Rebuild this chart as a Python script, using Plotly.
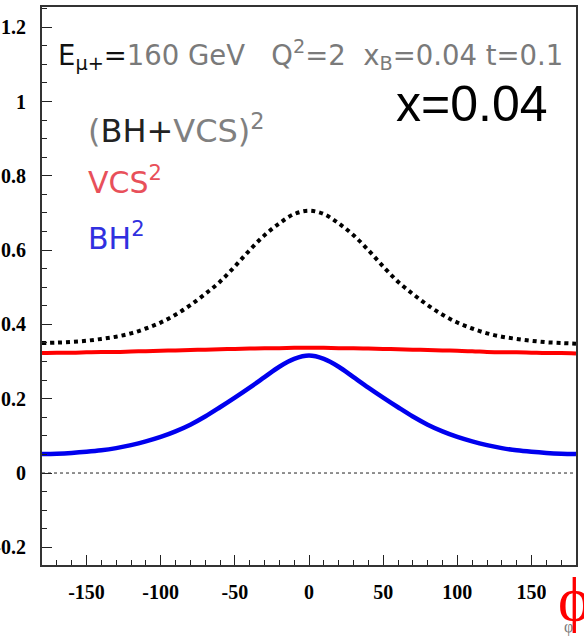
import plotly.graph_objects as go

# ---- data ----
phi = [-180, -170, -160, -150, -140, -130, -120, -110, -100, -90, -80, -70, -60, -50, -40, -30, -20, -10,
       0, 10, 20, 30, 40, 50, 60, 70, 80, 90, 100, 110, 120, 130, 140, 150, 160, 170, 180]

bh_vcs_sq = [0.350, 0.351, 0.353, 0.356, 0.361, 0.367, 0.376, 0.389, 0.405, 0.426, 0.452, 0.482, 0.515, 0.556,
             0.600, 0.640, 0.672, 0.697, 0.706, 0.697, 0.672, 0.640, 0.600, 0.556, 0.515, 0.482, 0.452, 0.426,
             0.405, 0.389, 0.376, 0.367, 0.361, 0.356, 0.352, 0.350, 0.348]

vcs_sq = [0.323, 0.324, 0.324, 0.325, 0.326, 0.326, 0.327, 0.328, 0.329, 0.330, 0.331, 0.332, 0.333, 0.334,
          0.335, 0.336, 0.336, 0.337, 0.337, 0.337, 0.336, 0.336, 0.335, 0.334, 0.333, 0.332, 0.331, 0.330,
          0.329, 0.328, 0.326, 0.325, 0.325, 0.324, 0.323, 0.323, 0.322]

bh_sq = [0.051, 0.052, 0.054, 0.057, 0.061, 0.067, 0.075, 0.085, 0.097, 0.112, 0.130, 0.152, 0.177, 0.203,
         0.230, 0.258, 0.286, 0.307, 0.316, 0.307, 0.286, 0.258, 0.230, 0.203, 0.177, 0.152, 0.130, 0.112,
         0.097, 0.085, 0.075, 0.067, 0.061, 0.057, 0.054, 0.052, 0.051]

x_ticks = [-150, -100, -50, 0, 50, 100, 150]
x_tick_labels = ["-150", "-100", "-50", "0", "50", "100", "150"]
y_ticks = [-0.2, 0, 0.2, 0.4, 0.6, 0.8, 1.0, 1.2]
y_tick_labels = ["-0.2", "0", "0.2", "0.4", "0.6", "0.8", "1", "1.2"]

# ---- figure ----
W, H = 584, 636
ML, MR, MT, MB = 42, 8, 7, 71


def px(x):
    return (x - ML) / (W - ML - MR)


def py(y):
    return (H - MB - y) / (H - MT - MB)


fig = go.Figure()
fig.add_trace(go.Scatter(x=phi, y=vcs_sq, mode="lines", line=dict(color="#ff0000", width=4, shape="spline"),
                         showlegend=False, hoverinfo="skip"))
fig.add_trace(go.Scatter(x=phi, y=bh_sq, mode="lines", line=dict(color="#0000ee", width=4.5, shape="spline"),
                         showlegend=False, hoverinfo="skip"))
fig.add_trace(go.Scatter(x=phi, y=bh_vcs_sq, mode="lines",
                         line=dict(color="#000000", width=4, dash="dot", shape="spline"),
                         showlegend=False, hoverinfo="skip"))

tickfont = dict(family="Liberation Serif, Times New Roman, serif", size=20, color="black", weight="bold")

fig.update_xaxes(range=[-180, 180], tickmode="array", tickvals=x_ticks, ticktext=x_tick_labels,
                 ticks="inside", ticklen=10, tickwidth=1.3, tickcolor="#222",
                 minor=dict(dtick=10, ticks="inside", ticklen=5, tickwidth=1, tickcolor="#222"),
                 showline=True, linecolor="#333", linewidth=2, mirror=True, showgrid=False, zeroline=False,
                 tickfont=tickfont, ticklabelstandoff=8, automargin=False)
fig.update_yaxes(range=[-0.2476, 1.2544], tickmode="array", tickvals=y_ticks, ticktext=y_tick_labels,
                 ticks="inside", ticklen=10, tickwidth=1.3, tickcolor="#222",
                 minor=dict(dtick=0.05, tick0=0, ticks="inside", ticklen=5, tickwidth=1, tickcolor="#222"),
                 showline=True, linecolor="#333", linewidth=2, mirror=True, showgrid=False, zeroline=False,
                 tickfont=tickfont, ticklabelstandoff=10, automargin=False)

# dotted zero line
fig.add_shape(type="line", xref="paper", yref="y", x0=0, x1=1, y0=0, y1=0,
              line=dict(color="#222", width=1, dash="dot"))

gray = "#7a7a7a"
sans = "DejaVu Sans, Verdana, sans-serif"
fig.add_annotation(
    x=px(56), y=py(55), xref="paper", yref="paper", xanchor="left", yanchor="middle", showarrow=False,
    text=("<span style='color:#111'>E<sub>μ+</sub>=</span>160 GeV&nbsp;&nbsp;&nbsp;Q<sup>2</sup>=2"
          "&nbsp;&nbsp;x<sub>B</sub>=0.04 t=0.1"),
    font=dict(family=sans, size=27.5, color=gray))
fig.add_annotation(
    x=px(86), y=py(129), xref="paper", yref="paper", xanchor="left", yanchor="middle", showarrow=False,
    text="(<span style='color:#222'>BH+</span>VCS)<sup>2</sup>",
    font=dict(family=sans, size=32, color="#808080"))
fig.add_annotation(
    x=px(86), y=py(180), xref="paper", yref="paper", xanchor="left", yanchor="middle", showarrow=False,
    text="VCS<sup>2</sup>", font=dict(family=sans, size=30, color="#e8505a"))
fig.add_annotation(
    x=px(86), y=py(236), xref="paper", yref="paper", xanchor="left", yanchor="middle", showarrow=False,
    text="BH<sup>2</sup>", font=dict(family=sans, size=30, color="#3030e0"))
fig.add_annotation(
    x=px(394), y=py(104), xref="paper", yref="paper", xanchor="left", yanchor="middle", showarrow=False,
    text="x=0.04", font=dict(family="Liberation Sans, Arial, sans-serif", size=50, color="black"))

# axis title (small gray) and large red phi overlay
fig.add_annotation(
    x=px(568), y=py(627), xref="paper", yref="paper", xanchor="center", yanchor="middle", showarrow=False,
    text="φ", font=dict(family="Liberation Serif, serif", size=16, color="#777"))
fig.add_shape(type="rect", xref="paper", yref="paper", x0=px(546), x1=px(560), y0=py(606), y1=py(574),
              fillcolor="white", line=dict(width=0), layer="above")
fig.add_annotation(
    x=px(574), y=py(599), xref="paper", yref="paper", xanchor="center", yanchor="middle", showarrow=False,
    text="ϕ", font=dict(family="Liberation Serif, DejaVu Serif, serif", size=62, color="#ff0000"))

fig.update_layout(width=W, height=H, margin=dict(l=ML, r=MR, t=MT, b=MB, pad=0),
                  plot_bgcolor="white", paper_bgcolor="white", showlegend=False)

fig.write_html("out.html")
